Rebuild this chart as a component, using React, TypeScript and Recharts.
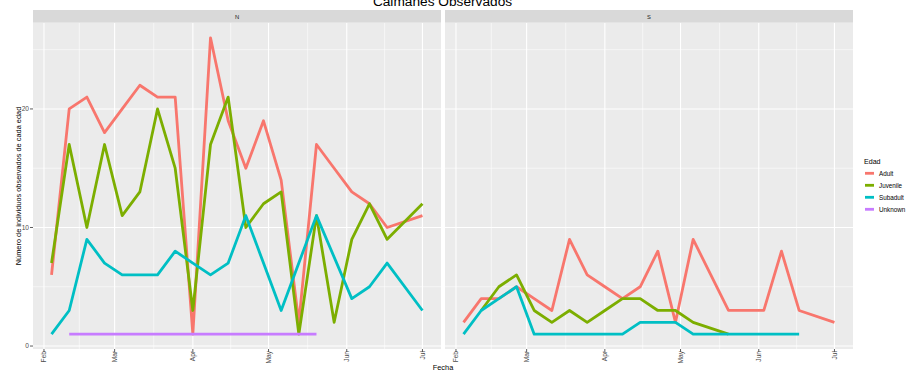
import React from 'react';
import { LineChart, Line, XAxis, YAxis, CartesianGrid } from 'recharts';

// Days counted from 1 Feb (day 0)
const days = [3, 10, 17, 24, 31, 38, 45, 52, 59, 66, 73, 80, 87, 94, 101, 108, 115, 122, 129, 136, 150];

const monthTicks = [0, 28, 59, 89, 120, 150];
const monthLabels = ['Feb', 'Mar', 'Apr', 'May', 'Jun', 'Jul'];
const minorXTicks = [14, 43.5, 74, 104.5, 135];
const yTicks = [0, 10, 20];
const minorYTicks = [5, 15, 25];

const seriesNames = ['Adult', 'Juvenile', 'Subadult', 'Unknown'];
const seriesColors = ['#F8766D', '#7CAE00', '#00BFC4', '#C77CFF'];

// Panel N
const nAdult = [6, 20, 21, 18, 20, 22, 21, 21, 1, 26, 19, 15, 19, 14, 2, 17, 15, 13, 12, 10, 11];
const nJuvenile = [7, 17, 10, 17, 11, 13, 20, 15, 3, 17, 21, 10, 12, 13, 1, 11, 2, 9, 12, 9, 12];
const nSubadult = [1, 3, 9, 7, 6, 6, 6, 8, 7, 6, 7, 11, 7, 3, 7, 11, null, 4, 5, 7, 3];
const nUnknown = [null, 1, 1, 1, 1, 1, 1, 1, 1, 1, 1, 1, 1, 1, 1, 1, null, null, null, null, null];

// Panel S
const sAdult = [2, 4, 4, 5, 4, 3, 9, 6, 5, 4, 5, 8, 2, 9, 6, 3, 3, 3, 8, 3, 2];
const sJuvenile = [null, 3, 5, 6, 3, 2, 3, 2, 3, 4, 4, 3, 3, 2, null, 1, null, null, null, null, null];
const sSubadult = [1, 3, 4, 5, 1, 1, 1, 1, 1, 1, 2, 2, 2, 1, 1, 1, 1, 1, 1, 1, null];
const sUnknown: (number | null)[] = days.map(() => null);

const xDomain = [-4.35, 157.35];
const yDomain = [-0.25, 27.25];

const FONT = '"Liberation Sans", Arial, Helvetica, sans-serif';

function buildRows(cols: (number | null)[][]) {
  return days.map((d, i) => {
    const row: any = { d };
    seriesNames.forEach((name, k) => {
      row[name] = cols[k][i];
    });
    return row;
  });
}

const nRows = buildRows([nAdult, nJuvenile, nSubadult, nUnknown]);
const sRows = buildRows([sAdult, sJuvenile, sSubadult, sUnknown]);

const XTick = (props: any) => {
  const { x, y, payload } = props;
  const idx = monthTicks.indexOf(payload.value);
  return (
    <text
      x={x}
      y={y - 1}
      transform={`rotate(-90 ${x} ${y - 1})`}
      textAnchor="end"
      dy="0.35em"
      fontSize={6.6}
      fill="#4D4D4D"
      fontFamily={FONT}
    >
      {idx >= 0 ? monthLabels[idx] : ''}
    </text>
  );
};

function Panel({ rows, width, showY, names }: { rows: any[]; width: number; showY: boolean; names: string[] }) {
  return (
    <LineChart width={width} height={380} data={rows} margin={{ top: 23, right: 0, bottom: 0, left: 0 }}>
      <CartesianGrid
        fill="#EBEBEB"
        stroke="#FFFFFF"
        strokeWidth={0.55}
        horizontalValues={minorYTicks}
        verticalValues={minorXTicks}
        syncWithTicks={false}
      />
      <CartesianGrid
        fill="none"
        stroke="#FFFFFF"
        strokeWidth={1.1}
        horizontalValues={yTicks}
        verticalValues={monthTicks}
      />
      <XAxis
        dataKey="d"
        type="number"
        domain={xDomain}
        allowDataOverflow
        ticks={monthTicks}
        interval={0}
        height={31}
        axisLine={false}
        tickLine={{ stroke: '#333333', strokeWidth: 0.8 }}
        tickSize={3}
        tickMargin={0}
        tick={<XTick />}
      />
      <YAxis
        type="number"
        domain={yDomain}
        allowDataOverflow
        ticks={yTicks}
        interval={0}
        width={33}
        hide={!showY}
        axisLine={false}
        tickLine={{ stroke: '#333333', strokeWidth: 0.8 }}
        tickSize={3}
        tickMargin={1}
        tick={{ fontSize: 6.6, fill: '#4D4D4D', fontFamily: FONT }}
      />
      {names.map((name) => (
        <Line
          key={name}
          type="linear"
          dataKey={name}
          stroke={seriesColors[seriesNames.indexOf(name)]}
          strokeWidth={2.8}
          strokeLinejoin="round"
          dot={false}
          activeDot={false}
          connectNulls
          isAnimationActive={false}
        />
      ))}
    </LineChart>
  );
}

export default function App() {
  return (
    <div
      style={{
        position: 'absolute',
        left: 0,
        top: 0,
        width: 917,
        height: 380,
        background: '#FFFFFF',
        overflow: 'hidden',
        fontFamily: FONT,
      }}
    >
      <div style={{ position: 'absolute', left: 0, top: 0 }}>
        <Panel rows={nRows} width={441} showY={true} names={seriesNames} />
      </div>
      <div style={{ position: 'absolute', left: 445, top: 0 }}>
        <Panel rows={sRows} width={408} showY={false} names={['Adult', 'Juvenile', 'Subadult']} />
      </div>
      <svg
        width={917}
        height={380}
        style={{ position: 'absolute', left: 0, top: 0, pointerEvents: 'none' }}
        fontFamily={FONT}
      >
        <text x={442.5} y={6} textAnchor="middle" fontSize={13.7} fill="#000000">
          Caimanes Observados
        </text>
        <rect x={33} y={10} width={408} height={12.7} fill="#D9D9D9" />
        <rect x={445} y={10} width={408} height={12.7} fill="#D9D9D9" />
        <text x={237} y={16.5} dy="0.35em" textAnchor="middle" fontSize={5.8} fill="#1A1A1A">
          N
        </text>
        <text x={649} y={16.5} dy="0.35em" textAnchor="middle" fontSize={5.8} fill="#1A1A1A">
          S
        </text>
        <text x={443} y={367} dy="0.35em" textAnchor="middle" fontSize={7.4} fill="#000000">
          Fecha
        </text>
        <text
          x={18}
          y={186}
          dy="0.35em"
          textAnchor="middle"
          fontSize={7.4}
          fill="#000000"
          transform="rotate(-90 18 186)"
        >
          Número de individuos observados de cada edad
        </text>
        <text x={864} y={162} dy="0.35em" fontSize={7.1} fill="#000000">
          Edad
        </text>
        {seriesNames.map((name, i) => (
          <g key={name}>
            <line x1={865} x2={874} y1={173.3 + i * 12} y2={173.3 + i * 12} stroke={seriesColors[i]} strokeWidth={2.8} />
            <text x={879} y={173.3 + i * 12} dy="0.35em" fontSize={6.3} fill="#000000">
              {name}
            </text>
          </g>
        ))}
      </svg>
    </div>
  );
}
